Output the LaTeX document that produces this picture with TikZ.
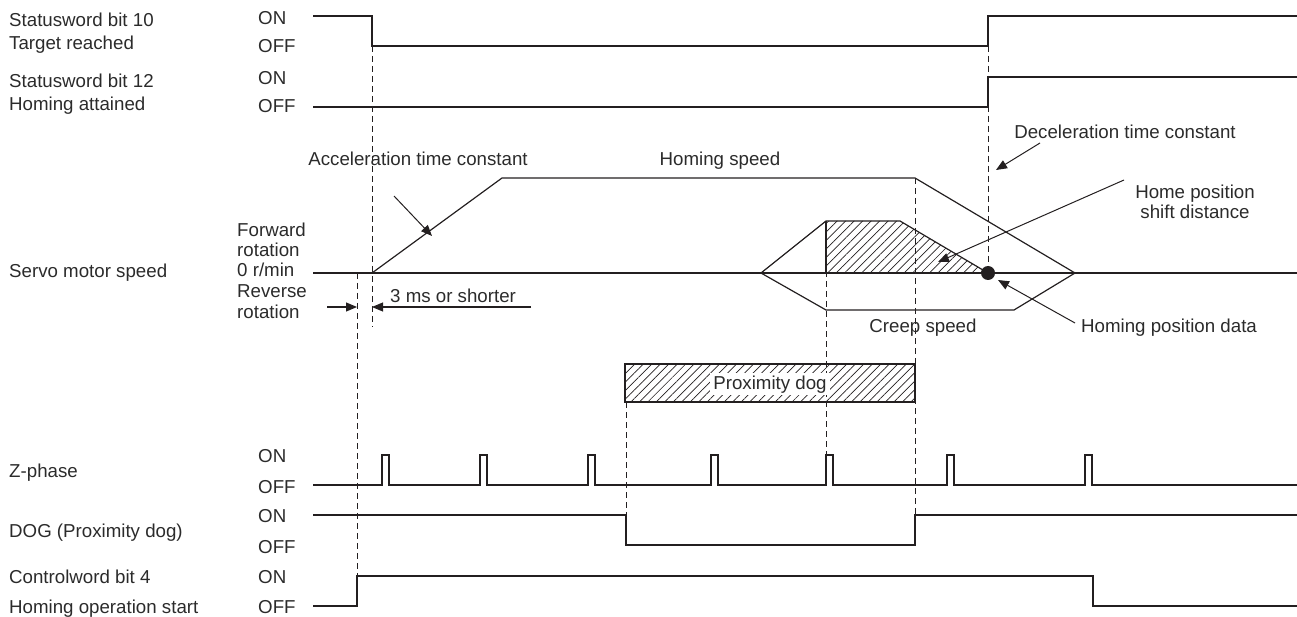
\documentclass[tikz,border=0pt]{standalone}
\usepackage{fontspec}
\setmainfont{Liberation Sans}
\usetikzlibrary{arrows.meta,patterns.meta}
\definecolor{ink}{HTML}{231F20}
\definecolor{txt}{HTML}{2B2B2B}
\begin{document}
\begin{tikzpicture}[x=1pt,y=-1pt,
  sig/.style={draw=ink,line width=1.2pt,line join=miter},
  guide/.style={draw=ink,line width=0.9pt,dash pattern=on 6pt off 4pt},
  lbl/.style={font=\fontsize{18.7}{22}\selectfont,text=txt,inner sep=0pt,anchor=base west},
  clbl/.style={lbl,anchor=base},
  tipline/.style={draw=ink,line width=1pt,-{Triangle[length=11pt,width=9pt]}},
  hatch/.style={pattern={Lines[angle=45,distance=6pt,line width=0.7pt]},pattern color=ink}
]
\useasboundingbox (0,0) rectangle (1297,617);
% hatched areas
\fill[hatch] (826,221) -- (900,221) -- (988,273) -- (826,273) -- cycle;
\draw[sig,hatch] (625,364) rectangle (915,402);
% guide lines
\draw[guide] (372,46) -- (372,327);
\draw[guide] (357,273) -- (357,576);
\draw[guide] (626,402) -- (626,545);
\draw[guide] (826,221) -- (826,455);
\draw[guide] (915,178) -- (915,515);
\draw[guide] (988,46) -- (988,273);
% signals
\draw[sig] (313,16) -- (372,16) -- (372,46) -- (988,46) -- (988,16) -- (1297,16);
\draw[sig] (313,107) -- (988,107) -- (988,77) -- (1297,77);
\draw[sig] (313,273) -- (1297,273);
\draw[sig] (372,273) -- (502,178) -- (915,178) -- (1075,273);
\draw[sig] (988,273) -- (900,221) -- (826,221) -- (761,273) -- (826,310) -- (1014,310) -- (1075,273);
\draw[sig] (826,221) -- (826,273);
\draw[sig] (313,485) foreach \a in {382,480,588,711,826,947,1085} { -- (\a,485) -- (\a,455) -- (\a+7,455) -- (\a+7,485) } -- (1297,485);
\draw[sig] (313,515) -- (626,515) -- (626,545) -- (915,545) -- (915,515) -- (1297,515);
\draw[sig] (313,606) -- (357,606) -- (357,576) -- (1093,576) -- (1093,606) -- (1297,606);
\fill[ink] (988,273) circle[radius=7];
% arrows
\coordinate (a1) at (327,307); \coordinate (a1t) at (357,307);
\coordinate (a2) at (531,307); \coordinate (a2t) at (372,307);
\draw[tipline] (a1) -- (a1t);
\draw[tipline] (a2) -- (a2t);
\coordinate (acc) at (394,196); \coordinate (acct) at (432,236);
\draw[tipline] (acc) -- (acct);
\coordinate (dec) at (1040,143); \coordinate (dect) at (996,170);
\draw[tipline] (dec) -- (dect);
\coordinate (hsd) at (1124,180); \coordinate (hsdt) at (938,262);
\draw[tipline] (hsd) -- (hsdt);
\coordinate (hpd) at (1075,323); \coordinate (hpdt) at (998,280);
\draw[tipline] (hpd) -- (hpdt);
% labels left
\node[lbl] (l1) at (9,27) {Statusword bit 10};
\node[lbl] (l2) at (9,50) {Target reached};
\node[lbl] (l3) at (9,88) {Statusword bit 12};
\node[lbl] (l4) at (9,111) {Homing attained};
\node[lbl] (l5) at (9,278) {Servo motor speed};
\node[lbl] (l6) at (9,477) {Z-phase};
\node[lbl] (l7) at (9,537) {DOG (Proximity dog)};
\node[lbl] (l8) at (9,583) {Controlword bit 4};
\node[lbl] (l9) at (9,613) {Homing operation start};
% on/off
\node[lbl] (o1) at (258,25) {ON};
\node[lbl] (o2) at (258,53) {OFF};
\node[lbl] (o3) at (258,85) {ON};
\node[lbl] (o4) at (258,113) {OFF};
\node[lbl] (o5) at (258,462) {ON};
\node[lbl] (o6) at (258,493) {OFF};
\node[lbl] (o7) at (258,522) {ON};
\node[lbl] (o8) at (258,553) {OFF};
\node[lbl] (o9) at (258,583) {ON};
\node[lbl] (o10) at (258,613) {OFF};
\node[lbl] (r1) at (237,237) {Forward};
\node[lbl] (r2) at (237,257) {rotation};
\node[lbl] (r3) at (237,277) {0 r/min};
\node[lbl] (r4) at (237,298) {Reverse};
\node[lbl] (r5) at (237,318) {rotation};
% other labels
\node[clbl] (t1) at (418,166) {Acceleration time constant};
\node[clbl] (t2) at (720,166) {Homing speed};
\node[clbl] (t3) at (1125,139) {Deceleration time constant};
\node[clbl] (t4) at (1195,199) {Home position};
\node[clbl] (t5) at (1195,219) {shift distance};
\node[clbl] (t6) at (923,332) {Creep speed};
\node[lbl] (t7) at (1081,332) {Homing position data};
\node[lbl] (t8) at (390,302) {3 ms or shorter};
\node[clbl,fill=white,inner xsep=3pt,inner ysep=2pt] (t9) at (770,389) {Proximity dog};
\end{tikzpicture}
\end{document}
